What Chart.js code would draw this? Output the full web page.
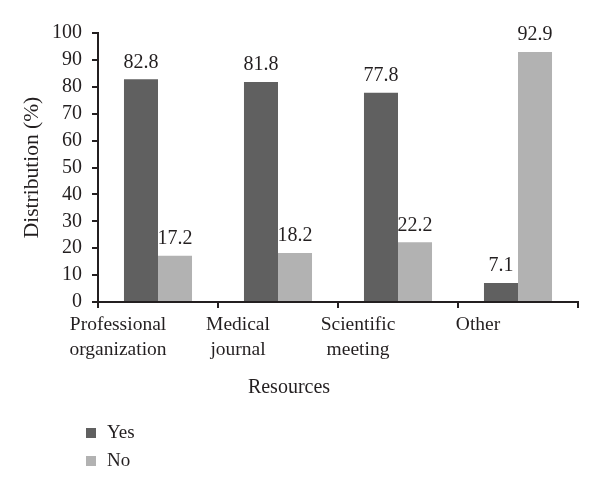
<!DOCTYPE html>
<html>
<head>
<meta charset="utf-8">
<title>Distribution by resource</title>
<script src="https://cdn.jsdelivr.net/npm/chart.js@4.4.1/dist/chart.umd.min.js"></script>
<style>
  html, body { margin: 0; padding: 0; background: #fff; }
  #wrap { width: 600px; height: 494px; }
</style>
</head>
<body>
<div id="wrap"><canvas id="chart-resources" width="600" height="494"></canvas></div>
<script>
// ── Data ─────────────────────────────────────────────────────────────── //
var categories = [
  ['Professional', 'organization'],
  ['Medical', 'journal'],
  ['Scientific', 'meeting'],
  ['Other']
];
var seriesNames = ['Yes', 'No'];
var yesValues = [82.8, 81.8, 77.8, 7.1];
var noValues  = [17.2, 18.2, 22.2, 92.9];
var yTicks    = [0, 10, 20, 30, 40, 50, 60, 70, 80, 90, 100];

(function () {
  'use strict';

  var INK   = '#231f20';
  var DARK  = '#606060';
  var LIGHT = '#b2b2b2';
  var FONT  = '"Liberation Serif", "Times New Roman", serif';

  Chart.defaults.font.family = FONT;
  Chart.defaults.font.size = 19;
  Chart.defaults.color = INK;

  // value printed above every bar
  var barValues = {
    id: 'barValues',
    afterDatasetsDraw: function (chart) {
      var ctx = chart.ctx;
      ctx.save();
      ctx.font = '20px ' + FONT;
      ctx.fillStyle = INK;
      ctx.textAlign = 'center';
      ctx.textBaseline = 'bottom';
      chart.data.datasets.forEach(function (ds, di) {
        chart.getDatasetMeta(di).data.forEach(function (bar, i) {
          ctx.fillText(ds.data[i].toFixed(1), bar.x, bar.y - 7);
        });
      });
      ctx.restore();
    }
  };

  // stacked legend, bottom left
  var stackedLegend = {
    id: 'stackedLegend',
    afterDraw: function (chart) {
      var ctx = chart.ctx;
      ctx.save();
      ctx.font = '19px ' + FONT;
      ctx.textBaseline = 'middle';
      ctx.textAlign = 'left';
      chart.data.datasets.forEach(function (ds, i) {
        var cy = chart.height - 61 + i * 28;
        ctx.fillStyle = ds.backgroundColor;
        ctx.fillRect(86, cy - 5, 10, 10);
        ctx.fillStyle = INK;
        ctx.fillText(ds.label, 107, cy);
      });
      ctx.restore();
    }
  };

  new Chart(document.getElementById('chart-resources').getContext('2d'), {
    type: 'bar',
    data: {
      labels: categories,
      datasets: [
        { label: seriesNames[0], data: yesValues, backgroundColor: DARK },
        { label: seriesNames[1], data: noValues,  backgroundColor: LIGHT }
      ]
    },
    options: {
      responsive: false,
      animation: false,
      devicePixelRatio: 1,
      datasets: { bar: { categoryPercentage: 0.567, barPercentage: 1.0 } },
      layout: { padding: { left: 0, right: 22, top: 33, bottom: 94 } },
      plugins: {
        legend: { display: false },
        tooltip: { enabled: false },
        title: {
          display: true,
          position: 'bottom',
          text: 'Resources',
          color: INK,
          font: { size: 20, weight: 'normal' },
          padding: { top: 4, bottom: 0 }
        }
      },
      scales: {
        x: {
          grid: {
            offset: true,
            drawOnChartArea: false,
            drawTicks: true,
            tickLength: 6,
            color: INK,
            lineWidth: 2
          },
          border: { color: INK, width: 2 },
          ticks: {
            color: INK,
            padding: 4,
            labelOffset: -40,
            maxRotation: 0,
            font: { size: 19.5, lineHeight: 1.3 }
          },
          afterFit: function (scale) { scale.height = 70; }
        },
        y: {
          min: yTicks[0],
          max: yTicks[yTicks.length - 1],
          grid: {
            drawOnChartArea: false,
            drawTicks: true,
            tickLength: 6,
            color: INK,
            lineWidth: 2
          },
          border: { color: INK, width: 2 },
          ticks: {
            stepSize: yTicks[1] - yTicks[0],
            autoSkip: false,
            color: INK,
            padding: 10,
            font: { size: 20, lineHeight: 1 }
          },
          title: {
            display: true,
            text: 'Distribution (%)',
            color: INK,
            font: { size: 21.5 },
            padding: { top: 19, bottom: 0 }
          },
          afterFit: function (scale) { scale.width = 98; }
        }
      }
    },
    plugins: [barValues, stackedLegend]
  });
})();
</script>
</body>
</html>
